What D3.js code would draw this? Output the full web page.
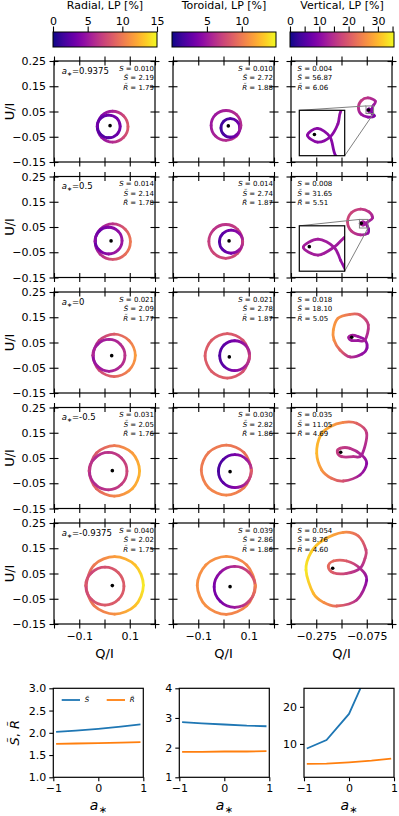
<!DOCTYPE html>
<html lang="en">
<head>
<meta charset="UTF-8" />
<title>Polarization loops</title>
<script src="https://cdnjs.cloudflare.com/ajax/libs/d3/7.8.5/d3.min.js"></script>
<style>
  body { margin: 0; background: #fff; }
  text { font-family: "DejaVu Sans", sans-serif; fill: #000; }
</style>
</head>
<body>
<div id="chart"></div>
<script>
// ---- data ----
var spins = [0.9375, 0.5, 0, -0.5, -0.9375];
var spinLabels = ["0.9375", "0.5", "0", "-0.5", "-0.9375"];
var columns = ["Radial, LP [%]", "Toroidal, LP [%]", "Vertical, LP [%]"];

var radialS = ["0.010", "0.014", "0.021", "0.031", "0.040"];
var radialSt = [2.19, 2.14, 2.09, 2.05, 2.02];
var radialRt = [1.79, 1.78, 1.77, 1.76, 1.75];
var toroidalS = ["0.010", "0.014", "0.021", "0.030", "0.039"];
var toroidalSt = [2.72, 2.74, 2.78, 2.82, 2.86];
var toroidalRt = [1.88, 1.87, 1.87, 1.86, 1.86];
var verticalS = ["0.004", "0.008", "0.018", "0.035", "0.054"];
var verticalSt = [56.87, 31.65, 18.10, 11.05, 8.76];
var verticalRt = [6.06, 5.51, 5.05, 4.69, 4.60];

var lpRanges = [[0, 15], [0, 14.9], [0, 35.5]];
var lpTicks = [[0, 5, 10, 15], [5, 10], [0, 5, 10, 15, 20, 25, 30, 35]];
var lpLabelled = [[0, 5, 10, 15], [5, 10], [0, 10, 20, 30]];

var uTicks = [-0.15, -0.05, 0.05, 0.15, 0.25];
var qTicksCentre = [-0.2, -0.1, 0, 0.1, 0.2];
var qLabelsCentre = [-0.1, 0.1];
var qTicksVert = [-0.375, -0.275, -0.175, -0.075, 0.025];
var qLabelsVert = [-0.275, -0.075];

// loops: [Q/I, U/I, LP %]
var radialLoops = [
  [[-0.029,-0.010,3.5],[-0.011,-0.053,4.5],[0.032,-0.071,6],[0.075,-0.053,7.5],[0.093,-0.010,8.5],[0.075,0.033,7.5],[0.032,0.051,5.5],[-0.011,0.033,4],
   [-0.028,-0.009,2.5],[-0.015,-0.041,2],[0.017,-0.054,2.5],[0.049,-0.041,3],[0.062,-0.009,3.5],[0.049,0.023,3.5],[0.017,0.036,3],[-0.015,0.023,2.5]],
  [[-0.0375,-0.008,4.5],[-0.017,-0.0575,6],[0.0325,-0.078,8],[0.082,-0.0575,9.5],[0.1025,-0.008,10],[0.082,0.0415,8.5],[0.0325,0.062,6.5],[-0.017,0.0415,5],
   [-0.0365,-0.004,2.5],[-0.021,-0.0415,3.5],[0.0165,-0.057,4.5],[0.054,-0.0415,5],[0.0695,-0.004,5],[0.054,0.0335,4.5],[0.0165,0.049,4],[-0.021,0.0335,3]],
  [[-0.046,-0.001,6],[-0.021,-0.060,7.5],[0.038,-0.085,9],[0.097,-0.060,10.5],[0.122,-0.001,11.5],[0.097,0.058,10],[0.038,0.083,8.5],[-0.021,0.058,7],
   [-0.045,-0.001,4.5],[-0.0265,-0.0455,5],[0.018,-0.064,5.5],[0.0625,-0.0455,6],[0.081,-0.001,6.5],[0.0625,0.0435,6],[0.018,0.062,5.5],[-0.0265,0.0435,5]],
  [[-0.061,-0.001,7],[-0.032,-0.072,9],[0.039,-0.101,10.5],[0.110,-0.072,12],[0.139,-0.001,12.5],[0.110,0.070,11.5],[0.039,0.099,10],[-0.032,0.070,8.5],
   [-0.059,-0.002,6],[-0.037,-0.054,6],[0.015,-0.076,6.5],[0.067,-0.054,7],[0.089,-0.002,7.5],[0.067,0.050,7],[0.015,0.072,6.5],[-0.037,0.050,6]],
  [[-0.074,0.003,8.5],[-0.041,-0.078,10],[0.040,-0.111,11],[0.121,-0.078,13],[0.154,0.003,14.5],[0.121,0.084,13],[0.040,0.117,11.5],[-0.041,0.084,10],
   [-0.073,0.000,7.5],[-0.051,-0.053,8],[0.002,-0.075,8.5],[0.055,-0.053,8.5],[0.077,0.000,8.5],[0.055,0.053,8.5],[0.002,0.075,8],[-0.051,0.053,7.5]]
];
var toroidalLoops = [
  [[0.069,-0.005,6],[0.052,0.037,6],[0.010,0.054,5.5],[-0.032,0.037,5],[-0.049,-0.005,5],[-0.032,-0.047,5.5],[0.010,-0.064,6],[0.052,-0.047,6.5],
   [0.064,-0.015,4],[0.053,0.011,3],[0.027,0.022,2],[0.001,0.011,1.5],[-0.010,-0.015,1.5],[0.001,-0.041,1.8],[0.027,-0.052,2.5],[0.053,-0.041,3.5]],
  [[0.076,-0.007,7],[0.056,0.040,7],[0.009,0.060,6.5],[-0.038,0.040,6.5],[-0.058,-0.007,7],[-0.038,-0.054,7.5],[0.009,-0.074,7.5],[0.056,-0.054,7.5],
   [0.076,-0.008,6],[0.0625,0.0245,4.5],[0.030,0.038,3.5],[-0.0025,0.0245,2.5],[-0.016,-0.008,2],[-0.0025,-0.0405,2.5],[0.030,-0.054,3.5],[0.0625,-0.0405,5]],
  [[0.103,-0.003,7.5],[0.077,0.059,8],[0.015,0.085,8.5],[-0.047,0.059,8.5],[-0.073,-0.003,8.5],[-0.047,-0.065,8.5],[0.015,-0.091,8.5],[0.077,-0.065,8],
   [0.103,-0.002,6.5],[0.086,0.040,5],[0.044,0.057,3.5],[0.002,0.040,2.5],[-0.015,-0.002,2],[0.002,-0.044,2.5],[0.044,-0.061,4],[0.086,-0.044,5.5]],
  [[0.110,0.002,9],[0.081,0.072,9.5],[0.011,0.101,10],[-0.059,0.072,10],[-0.088,0.002,10],[-0.059,-0.068,10.5],[0.011,-0.097,10.5],[0.081,-0.068,10],
   [0.110,-0.002,7],[0.091,0.044,5],[0.045,0.063,3.5],[-0.001,0.044,2],[-0.020,-0.002,1.8],[-0.001,-0.048,2.5],[0.045,-0.067,4],[0.091,-0.048,6]],
  [[0.126,0.003,10.5],[0.092,0.084,10.5],[0.011,0.118,11],[-0.070,0.084,11],[-0.104,0.003,11],[-0.070,-0.078,11],[0.011,-0.112,10.5],[0.092,-0.078,10.5],
   [0.125,-0.003,9],[0.101,0.054,7.5],[0.044,0.078,6],[-0.013,0.054,4.5],[-0.037,-0.003,3.5],[-0.013,-0.060,3.5],[0.044,-0.084,5],[0.101,-0.060,7.5]]
];
var verticalLoops = [
  [[-0.054,0.042,9],[-0.0577,0.0544,10],[-0.066,0.060,10],[-0.0726,0.0555,10],[-0.066,0.051,10],[-0.0577,0.0544,10],[-0.0525,0.063,10.5],[-0.0504,0.072,11],
   [-0.041,0.091,13],[-0.070,0.104,15],[-0.097,0.093,16],[-0.108,0.066,15],[-0.097,0.039,12],[-0.070,0.028,10.5],[-0.045,0.032,9.5]],
  [[-0.068,0.042,10],[-0.073,0.054,11],[-0.078,0.064,12],[-0.090,0.070,12.5],[-0.101,0.064,12.5],[-0.090,0.058,12.5],[-0.078,0.064,12],[-0.0705,0.071,12.5],
   [-0.052,0.086,13],[-0.066,0.110,15],[-0.100,0.121,16.5],[-0.136,0.106,17.5],[-0.151,0.070,17.5],[-0.136,0.034,16],[-0.100,0.019,14],[-0.070,0.026,11]],
  [[-0.0819,0.0599,13],[-0.0689,0.1193,16],[-0.1017,0.1589,20],[-0.1413,0.1617,23],[-0.1889,0.1458,26],[-0.2075,0.0995,27],[-0.2047,0.0599,26],
   [-0.1809,0.0203,21],[-0.1413,-0.0074,15],[-0.0938,0.0045,11],[-0.0740,0.0282,10],
   [-0.0819,0.0599,11],[-0.1097,0.0738,12],[-0.1354,0.0785,12.5],[-0.1465,0.0698,12.5],[-0.1354,0.0587,12],[-0.1097,0.0579,12]],
  [[-0.095,0.0619,13],[-0.0752,0.1478,16],[-0.1148,0.1874,21],[-0.1679,0.1914,25],[-0.2205,0.1739,28],[-0.258,0.140,29.5],[-0.2732,0.0686,30],
   [-0.2534,0.0025,27],[-0.215,-0.030,23],[-0.1679,-0.0411,19],[-0.1017,-0.0173,12],[-0.0752,0.029,10],
   [-0.095,0.0619,13],[-0.1413,0.0884,15.5],[-0.1809,0.0884,16.5],[-0.1916,0.0726,16.5],[-0.1742,0.0551,16],[-0.1283,0.0551,15]],
  [[-0.1017,0.0706,14],[-0.0819,0.110,17],[-0.078,0.143,18],[-0.1085,0.1985,22],[-0.1679,0.2132,26],[-0.2471,0.1827,30],[-0.295,0.135,32],
   [-0.3156,0.0639,34],[-0.2867,-0.0284,30],[-0.245,-0.065,26],[-0.194,-0.0787,22],[-0.1148,-0.055,15],[-0.0752,0.0243,10],
   [-0.1017,0.0706,15],[-0.1544,0.0995,20],[-0.2075,0.0995,22],[-0.2273,0.077,22],[-0.2075,0.053,20],[-0.1544,0.0508,17]]
];
var radialDots = [[0.022,-0.006],[0.026,-0.005],[0.0285,-0.002],[0.031,0.000],[0.031,0.002]];
var toroidalDots = [[0.019,-0.007],[0.022,-0.005],[0.023,-0.007],[0.026,-0.004],[0.026,-0.002]];
var verticalDots = [[-0.068,0.056],[-0.0965,0.0644],[-0.1346,0.0706],[-0.1782,0.0726],[-0.2099,0.0706]];
// zoomed regions of the vertical column (row index, Q range, U range)
var verticalInsets = [
  { row: 0, q: [-0.078, -0.048], u: [0.042, 0.072] },
  { row: 1, q: [-0.104, -0.070], u: [0.046, 0.080] }
];

var statDomains = [[1, 3], [1, 4], [1, 25]];
var statTicks = [[1, 1.5, 2, 2.5, 3], [1, 2, 3, 4], [10, 20]];
var statFormats = [".1f", "d", "d"];

// ---- layout ----
var colX = [54, 173, 291], rowY = [61, 176.5, 292, 407.5, 523];
var PW = 101, PH = 101;
var uDomain = [-0.15, 0.25];

var cols = [
  { S: radialS, St: radialSt, Rt: radialRt, loops: radialLoops, dots: radialDots, q: [-0.2, 0.2], qt: qTicksCentre, ql: qLabelsCentre, fmt: ".1f" },
  { S: toroidalS, St: toroidalSt, Rt: toroidalRt, loops: toroidalLoops, dots: toroidalDots, q: [-0.2, 0.2], qt: qTicksCentre, ql: qLabelsCentre, fmt: ".1f" },
  { S: verticalS, St: verticalSt, Rt: verticalRt, loops: verticalLoops, dots: verticalDots, q: [-0.375, 0.025], qt: qTicksVert, ql: qLabelsVert, fmt: ".3f" }
];

var svg = d3.select("#chart").append("svg").attr("width", 399).attr("height", 816);
var defs = svg.append("defs");
var gid = 0;

function plasmaOf(range) {
  var s = d3.scaleLinear().domain(range).range([0, 1]).clamp(true);
  return function (v) { return d3.interpolatePlasma(s(v)); };
}

// closed Catmull-Rom loop, each piece stroked with a gradient between its end colours
function drawLoop(g, pts, xs, ys, colour, lw) {
  var n = pts.length;
  var P = pts.map(function (p) { return [xs(p[0]), ys(p[1]), p[2]]; });
  for (var i = 0; i < n; i++) {
    var p0 = P[(i - 1 + n) % n], p1 = P[i], p2 = P[(i + 1) % n], p3 = P[(i + 2) % n];
    var path = d3.path();
    path.moveTo(p1[0], p1[1]);
    path.bezierCurveTo(p1[0] + (p2[0] - p0[0]) / 6, p1[1] + (p2[1] - p0[1]) / 6,
                       p2[0] - (p3[0] - p1[0]) / 6, p2[1] - (p3[1] - p1[1]) / 6, p2[0], p2[1]);
    var id = "seg" + (gid++);
    var lg = defs.append("linearGradient").attr("id", id).attr("gradientUnits", "userSpaceOnUse")
      .attr("x1", p1[0]).attr("y1", p1[1]).attr("x2", p2[0] + 0.01).attr("y2", p2[1]);
    lg.append("stop").attr("offset", 0).attr("stop-color", colour(p1[2]));
    lg.append("stop").attr("offset", 1).attr("stop-color", colour(p2[2]));
    g.append("path").attr("d", path.toString()).attr("fill", "none")
      .attr("stroke", "url(#" + id + ")").attr("stroke-width", lw).attr("stroke-linecap", "round");
  }
}

function styleAxis(ax, size) {
  ax.select(".domain").remove();
  ax.selectAll("line").attr("stroke-width", 1.1);
  ax.selectAll("text").style("font-size", size + "px");
}

// inout ticks on all four sides
function frameAxes(g, xs, ys, xt, xf, yt, yf) {
  var L = 4.5;
  var b = g.append("g").attr("transform", "translate(0," + PH + ")")
    .call(d3.axisBottom(xs).tickValues(xt).tickFormat(xf).tickSize(L).tickPadding(3.5));
  b.selectAll("line").attr("y1", -L).attr("y2", L);
  styleAxis(b, 11);
  var t = g.append("g").call(d3.axisTop(xs).tickValues(xt).tickFormat("").tickSize(L));
  t.selectAll("line").attr("y1", -L).attr("y2", L);
  styleAxis(t, 11);
  var l = g.append("g").call(d3.axisLeft(ys).tickValues(yt).tickFormat(yf).tickSize(L).tickPadding(3.5));
  l.selectAll("line").attr("x1", -L).attr("x2", L);
  styleAxis(l, 11);
  var r = g.append("g").attr("transform", "translate(" + PW + ",0)")
    .call(d3.axisRight(ys).tickValues(yt).tickFormat("").tickSize(L));
  r.selectAll("line").attr("x1", -L).attr("x2", L);
  styleAxis(r, 11);
  g.append("rect").attr("width", PW).attr("height", PH).attr("fill", "none")
    .attr("stroke", "#000").attr("stroke-width", 1.2);
}

function statText(g, x, y, anchor, s, st, rt) {
  var lines = [["S", " = " + s], ["S\u0303", " = " + st.toFixed(2)], ["R\u0303", " = " + rt.toFixed(2)]];
  lines.forEach(function (l, i) {
    var t = g.append("text").attr("x", x).attr("y", y + i * 9.35)
      .attr("text-anchor", anchor).style("font-size", "7px");
    t.append("tspan").style("font-style", "italic").text(l[0]);
    t.append("tspan").text(l[1]);
  });
}

// ---- colour bars ----
var cbY = 32, cbH = 15, cbW = 104;
columns.forEach(function (name, ci) {
  var lg = defs.append("linearGradient").attr("id", "cb" + ci);
  d3.range(0, 21).forEach(function (k) {
    lg.append("stop").attr("offset", k / 20).attr("stop-color", d3.interpolatePlasma(k / 20));
  });
  var g = svg.append("g").attr("transform", "translate(" + (colX[ci] - 1) + "," + cbY + ")");
  g.append("rect").attr("width", cbW).attr("height", cbH).attr("fill", "url(#cb" + ci + ")")
    .attr("stroke", "#000").attr("stroke-width", 1);
  var s = d3.scaleLinear().domain(lpRanges[ci]).range([0, cbW]);
  var ax = g.append("g").call(d3.axisTop(s).tickValues(lpTicks[ci])
    .tickFormat(function (d) { return lpLabelled[ci].indexOf(d) >= 0 ? d : ""; })
    .tickSize(5.5).tickPadding(2));
  styleAxis(ax, 11);
  g.append("text").attr("x", cbW / 2).attr("y", 9 - cbY).attr("text-anchor", "middle")
    .style("font-size", "11px").text(name);
});

// ---- loop panels ----
cols.forEach(function (c, ci) {
  var xs = d3.scaleLinear().domain(c.q).range([0, PW]);
  var ys = d3.scaleLinear().domain(uDomain).range([PH, 0]);
  var colour = plasmaOf(lpRanges[ci]);
  var fq = d3.format(c.fmt), fu = d3.format(".2f");

  rowY.forEach(function (ry, ri) {
    var g = svg.append("g").attr("transform", "translate(" + colX[ci] + "," + ry + ")");
    var clipId = "clip" + ci + "_" + ri;
    defs.append("clipPath").attr("id", clipId).append("rect").attr("width", PW).attr("height", PH);
    var plot = g.append("g").attr("clip-path", "url(#" + clipId + ")");
    drawLoop(plot, c.loops[ri], xs, ys, colour, 2.8);
    plot.append("circle").attr("cx", xs(c.dots[ri][0])).attr("cy", ys(c.dots[ri][1]))
      .attr("r", 1.8).attr("fill", "#000");

    var ins = ci === 2 ? verticalInsets.filter(function (d) { return d.row === ri; })[0] : null;
    if (ins) {
      var x0 = xs(ins.q[0]), x1 = xs(ins.q[1]), y0 = ys(ins.u[1]), y1 = ys(ins.u[0]);
      var ix = 8.3, iy = 49.3, isz = 45.4;
      g.append("rect").attr("x", x0).attr("y", y0).attr("width", x1 - x0).attr("height", y1 - y0)
        .attr("fill", "none").attr("stroke", "#808080").attr("stroke-width", 1);
      g.append("line").attr("x1", ix).attr("y1", iy).attr("x2", x0).attr("y2", y0)
        .attr("stroke", "#808080").attr("stroke-width", 1);
      g.append("line").attr("x1", ix + isz).attr("y1", iy + isz).attr("x2", x1).attr("y2", y1)
        .attr("stroke", "#808080").attr("stroke-width", 1);
      var ig = g.append("g").attr("transform", "translate(" + ix + "," + iy + ")");
      ig.append("rect").attr("width", isz).attr("height", isz).attr("fill", "#fff");
      var icl = "iclip" + ri;
      defs.append("clipPath").attr("id", icl).append("rect").attr("width", isz).attr("height", isz);
      var ip = ig.append("g").attr("clip-path", "url(#" + icl + ")");
      var ixs = d3.scaleLinear().domain(ins.q).range([0, isz]);
      var iys = d3.scaleLinear().domain(ins.u).range([isz, 0]);
      drawLoop(ip, c.loops[ri], ixs, iys, colour, 2.8);
      ip.append("circle").attr("cx", ixs(c.dots[ri][0])).attr("cy", iys(c.dots[ri][1]))
        .attr("r", 1.8).attr("fill", "#000");
      ig.append("rect").attr("width", isz).attr("height", isz).attr("fill", "none")
        .attr("stroke", "#000").attr("stroke-width", 1.2);
    }

    if (ci === 2) statText(g, 6.5, 9.8, "start", c.S[ri], c.St[ri], c.Rt[ri]);
    else statText(g, PW - 1, 9.8, "end", c.S[ri], c.St[ri], c.Rt[ri]);

    if (ci === 0) {
      var t = g.append("text").attr("x", 7.7).attr("y", 12.7).style("font-size", "8.5px");
      t.append("tspan").style("font-style", "italic").text("a");
      t.append("tspan").attr("dy", 2).style("font-size", "6px").text("\u2217");
      t.append("tspan").attr("dy", -2).text("=" + spinLabels[ri]);
    }

    var last = ri === rowY.length - 1;
    frameAxes(g, xs, ys, c.qt,
      function (d) { return last && c.ql.some(function (v) { return Math.abs(v - d) < 1e-9; }) ? fq(d) : ""; },
      uTicks,
      function (d) { return ci === 0 ? fu(d) : ""; });
  });

  svg.append("text").attr("x", colX[ci] + PW / 2).attr("y", 658).attr("text-anchor", "middle")
    .style("font-size", "13px").text("Q/I");
});

rowY.forEach(function (ry) {
  svg.append("text").attr("transform", "translate(13.5," + (ry + PH / 2) + ") rotate(-90)")
    .attr("text-anchor", "middle").style("font-size", "13px").text("U/I");
});

// ---- S~ and R~ against spin ----
var bottomX = [53.3, 179.3, 304], bottomY = 688.3, BW = 90, BH = 89;
var stSeries = [radialSt, toroidalSt, verticalSt], rtSeries = [radialRt, toroidalRt, verticalRt];
var blue = "#1f77b4", orange = "#ff7f0e";

bottomX.forEach(function (bx, ci) {
  var g = svg.append("g").attr("transform", "translate(" + bx + "," + bottomY + ")");
  var xs = d3.scaleLinear().domain([-1, 1]).range([0, BW]);
  var ys = d3.scaleLinear().domain(statDomains[ci]).range([BH, 0]);
  defs.append("clipPath").attr("id", "bclip" + ci).append("rect").attr("width", BW).attr("height", BH);
  var plot = g.append("g").attr("clip-path", "url(#bclip" + ci + ")");
  var line = d3.line().x(function (d) { return xs(d[0]); }).y(function (d) { return ys(d[1]); });
  [[stSeries[ci], blue], [rtSeries[ci], orange]].forEach(function (s) {
    plot.append("path").attr("d", line(spins.map(function (a, i) { return [a, s[0][i]]; })))
      .attr("fill", "none").attr("stroke", s[1]).attr("stroke-width", 1.8);
  });
  var xa = g.append("g").attr("transform", "translate(0," + BH + ")")
    .call(d3.axisBottom(xs).tickValues([-1, 0, 1]).tickFormat(d3.format("d")).tickSize(4).tickPadding(3));
  styleAxis(xa, 11);
  var ya = g.append("g").call(d3.axisLeft(ys).tickValues(statTicks[ci])
    .tickFormat(d3.format(statFormats[ci])).tickSize(4).tickPadding(3));
  styleAxis(ya, 11);
  g.append("rect").attr("width", BW).attr("height", BH).attr("fill", "none")
    .attr("stroke", "#000").attr("stroke-width", 1.2);

  var t = svg.append("text").attr("x", bx + BW / 2).attr("y", 810).attr("text-anchor", "middle")
    .style("font-size", "14px");
  t.append("tspan").style("font-style", "italic").text("a");
  t.append("tspan").attr("dy", 3).style("font-size", "10px").text("\u2217");

  if (ci === 0) {
    [["S\u0303", blue, 8.4], ["R\u0303", orange, 53.4]].forEach(function (e) {
      g.append("line").attr("x1", e[2]).attr("x2", e[2] + 18.3).attr("y1", 11.7).attr("y2", 11.7)
        .attr("stroke", e[1]).attr("stroke-width", 1.8);
      g.append("text").attr("x", e[2] + 23).attr("y", 14.2).style("font-size", "7px")
        .style("font-style", "italic").text(e[0]);
    });
  }
});

var yl = svg.append("text").attr("transform", "translate(18.5," + (bottomY + BH / 2) + ") rotate(-90)")
  .attr("text-anchor", "middle").style("font-size", "13px");
yl.append("tspan").style("font-style", "italic").text("S\u0303");
yl.append("tspan").text(", ");
yl.append("tspan").style("font-style", "italic").text("R\u0303");
</script>
</body>
</html>
